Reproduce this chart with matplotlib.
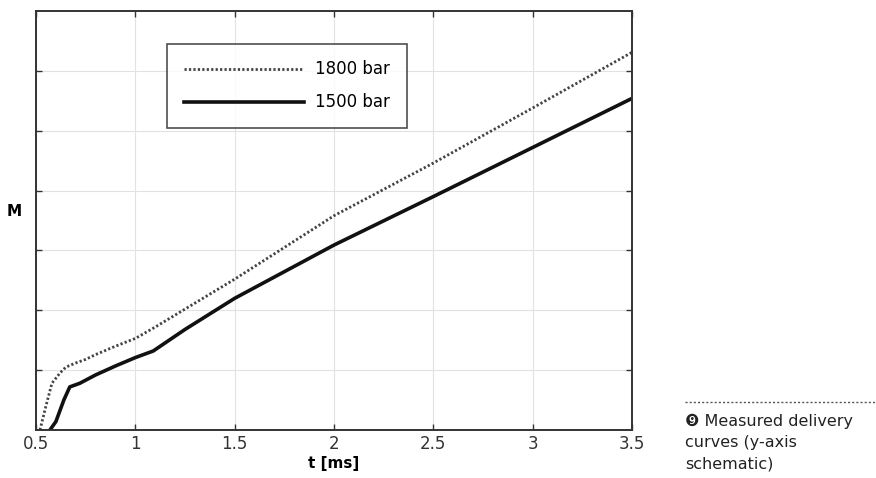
import matplotlib.pyplot as plt

# measured delivery curves (y axis is schematic)
t_1800 = [0.52, 0.55, 0.58, 0.62, 0.65, 0.70, 0.75, 0.80, 0.90, 1.00, 1.10, 1.25, 1.50, 2.00, 2.50, 3.00, 3.50]
m_1800 = [0.00, 0.40, 0.78, 0.95, 1.05, 1.12, 1.18, 1.26, 1.40, 1.53, 1.72, 2.02, 2.52, 3.58, 4.46, 5.38, 6.31]

t_1500 = [0.57, 0.60, 0.64, 0.67, 0.72, 0.80, 0.90, 1.00, 1.09, 1.25, 1.50, 2.00, 2.50, 3.00, 3.50]
m_1500 = [0.00, 0.14, 0.50, 0.72, 0.78, 0.92, 1.07, 1.21, 1.32, 1.68, 2.20, 3.09, 3.90, 4.72, 5.54]

xticks = [0.5, 1, 1.5, 2, 2.5, 3, 3.5]
xlabels = ["0.5", "1", "1.5", "2", "2.5", "3", "3.5"]
yticks = [1, 2, 3, 4, 5, 6]

fig = plt.figure(figsize=(8.76, 4.78), dpi=100)
ax = fig.add_axes([0.0411, 0.1004, 0.6804, 0.8766])

ax.plot(t_1800, m_1800, color="#444444", lw=2.0, linestyle=(0, (0.8, 0.8)), label="1800 bar")
ax.plot(t_1500, m_1500, color="#111111", lw=2.6, label="1500 bar")

ax.set_xlim(0.5, 3.5)
ax.set_ylim(0, 7)
ax.set_xticks(xticks)
ax.set_xticklabels(xlabels, fontsize=12, color="#333333")
ax.set_yticks(yticks)
ax.set_yticklabels([])
ax.tick_params(direction="in", length=4, width=1, top=True, right=True, color="#333333")
ax.grid(True, color="#e2e2e2", lw=0.8)
for s in ax.spines.values():
    s.set_linewidth(1.4)
    s.set_color("#333333")

ax.set_xlabel("t [ms]", fontsize=11, fontweight="bold", labelpad=2)
fig.text(14 / 876, 1 - 211 / 478, "M", fontsize=11, fontweight="bold", ha="center", va="center")

leg = ax.legend(loc="upper left", bbox_to_anchor=(0.22, 0.922), fontsize=12, frameon=True,
                fancybox=False, handlelength=7.2, handletextpad=0.7, borderpad=1.0,
                labelspacing=0.9, borderaxespad=0)
leg.get_frame().set_edgecolor("#222222")
leg.get_frame().set_linewidth(1.2)

# caption on the right
fig.add_artist(plt.Line2D([685 / 876, 1.0], [1 - 402 / 478] * 2, color="#555555", lw=1, linestyle=(0, (1.5, 1.5))))
fig.text(685 / 876, 1 - 414 / 478, "\u277e Measured delivery\ncurves (y-axis\nschematic)",
         fontsize=11.5, va="top", ha="left", linespacing=1.5, color="#222222")

plt.savefig("out.png", dpi=100)
